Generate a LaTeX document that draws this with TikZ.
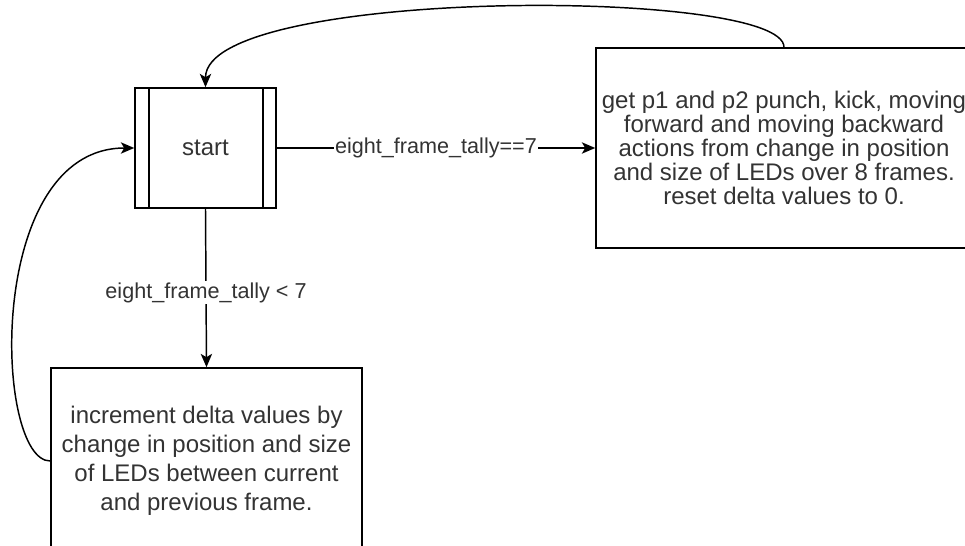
\documentclass[tikz,border=0pt]{standalone}
\usepackage{fontspec}
\setmainfont{Liberation Sans}
\usetikzlibrary{arrows.meta}
\definecolor{ink}{HTML}{333333}
\tikzstyle{edge} = [draw,line width=1.1pt,-{Stealth[length=10pt,width=8.5pt,inset=2.5pt]}]
\tikzstyle{block} = [draw,line width=1.2pt,align=center,text=ink,inner sep=0pt]
\tikzstyle{weight} = [fill=white,text=ink,inner sep=1pt,font=\fontsize{16.2}{18}\selectfont]

\begin{document}
\begin{tikzpicture}[x=0.75pt,y=-0.75pt]
	\useasboundingbox (0,0) rectangle (965,546);
	\clip (0,0) rectangle (965,546);
	\fill[white] (0,0) rectangle (965,546);

	\node[block,minimum width=105.75pt,minimum height=90pt,font=\fontsize{18}{18}\selectfont] (start) at (205.5,148) {start};
	\draw[line width=1.2pt] ([xshift=11.25pt]start.north west) -- ([xshift=11.25pt]start.south west);
	\draw[line width=1.2pt] ([xshift=-10.5pt]start.north east) -- ([xshift=-10.5pt]start.south east);

	\node[block,minimum width=282pt,minimum height=150pt,font=\fontsize{18}{18}\selectfont] (act) at (784,148)
		{get p1 and p2 punch, kick, moving\\ forward and moving backward\\ actions from change in position\\ and size of LEDs over 8 frames.\\ reset delta values to 0.};

	\node[block,minimum width=233.25pt,minimum height=139.5pt,font=\fontsize{18}{21.75}\selectfont] (incr) at (206.5,461)
		{increment delta values by\\ change in position and size\\ of LEDs between current\\ and previous frame.};

	\path[edge] (start.east) -- node[weight] {eight\_frame\_tally==7} (act.west);
	\path[edge] (start.south) -- node[weight,pos=0.53] {eight\_frame\_tally < 7} (incr.north);
	\path[edge] (act.north) .. controls +(0,-60) and +(0,-100) .. (start.north);
	\path[edge] (incr.west) .. controls +(-56,0) and +(-150,0) .. (start.west);
\end{tikzpicture}
\end{document}
